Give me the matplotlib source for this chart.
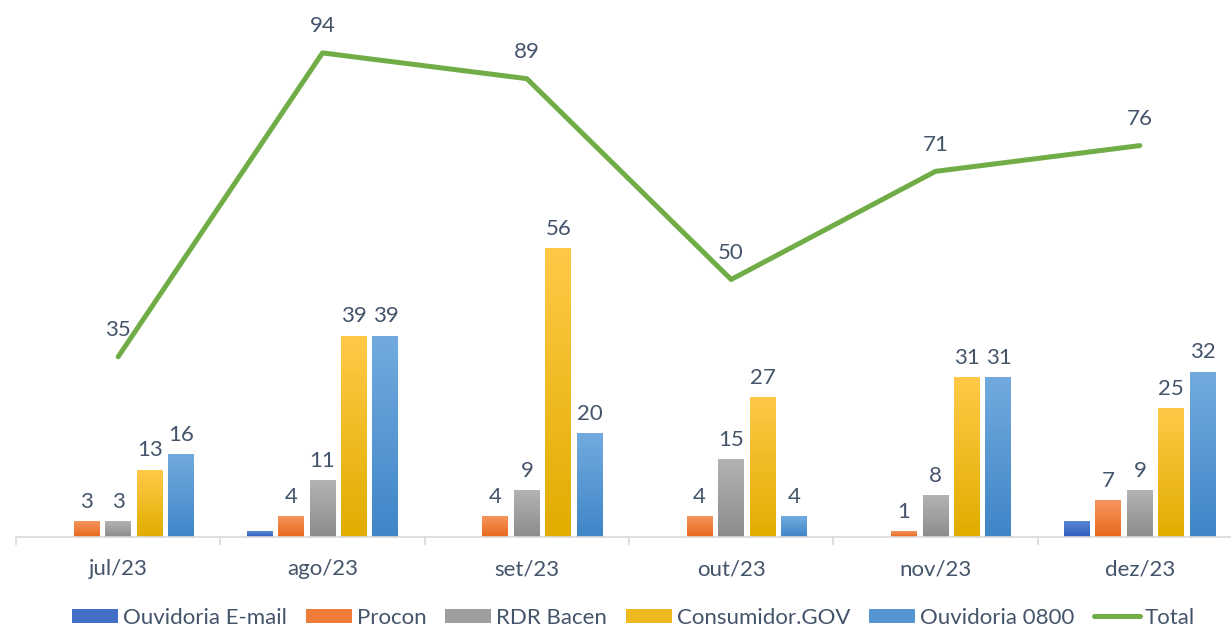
import numpy as np
import matplotlib
matplotlib.use("Agg")
import matplotlib.pyplot as plt
from matplotlib.colors import LinearSegmentedColormap
from matplotlib.patches import Patch
from matplotlib.lines import Line2D

plt.rcParams['font.family'] = ['Lato', 'DejaVu Sans']

months = ["jul/23", "ago/23", "set/23", "out/23", "nov/23", "dez/23"]
series = ["Ouvidoria E-mail", "Procon", "RDR Bacen", "Consumidor.GOV", "Ouvidoria 0800"]
email = [0, 1, 0, 0, 0, 3]
procon = [3, 4, 4, 4, 1, 7]
rdr = [3, 11, 9, 15, 8, 9]
gov = [13, 39, 56, 27, 31, 25]
tel = [16, 39, 20, 4, 31, 32]
total = [35, 94, 89, 50, 71, 76]

values = [email, procon, rdr, gov, tel]
show_labels = [False, True, True, True, True]
# (top, bottom) colours of the gradient fills
grads = [("#5a86d6", "#2f5cbc"),
         ("#f6955e", "#e8691c"),
         ("#b3b3b3", "#8c8c8c"),
         ("#ffc947", "#e2ad00"),
         ("#72aadf", "#3f86c8")]
txt = "#44546a"

fig = plt.figure(figsize=(12.31, 6.29), dpi=100)
W, H = 1231, 629
ax = fig.add_axes([16 / W, 1 - 537 / H, 1226 / W, (537 - 22) / H])

x = np.arange(len(months))
bw = 0.127
step = 0.154
cmaps = []
for i, (vals, (c_top, c_bot)) in enumerate(zip(values, grads)):
    cmap = LinearSegmentedColormap.from_list("g%d" % i, [c_bot, c_top])
    cmaps.append(cmap)
    grad = np.linspace(1, 0, 50).reshape(-1, 1)
    for j, v in enumerate(vals):
        if v <= 0:
            continue
        xc = x[j] + (i - 2) * step
        ax.imshow(grad, cmap=cmap, extent=[xc - bw / 2, xc + bw / 2, 0, v],
                  aspect='auto', zorder=2, interpolation='bilinear')
        if show_labels[i]:
            ax.annotate(str(v), (xc, v), xytext=(0, 7), textcoords='offset points',
                        ha='center', va='bottom', fontsize=16, color=txt)

ax.plot(x, total, color="#70ad47", lw=3.6, zorder=3, solid_capstyle='round')
for xi, t in zip(x, total):
    ax.annotate(str(t), (xi, t), xytext=(0, 12), textcoords='offset points',
                ha='center', va='bottom', fontsize=16, color=txt, annotation_clip=False)

ax.set_xlim(-0.5, 5.5)
ax.set_ylim(0, 100)
for s in ['top', 'right', 'left']:
    ax.spines[s].set_visible(False)
ax.spines['bottom'].set_color("#d9d9d9")
ax.spines['bottom'].set_linewidth(1.2)
ax.set_yticks([])
ax.set_xticks(np.arange(-0.5, 6, 1))
ax.set_xticklabels([])
ax.set_xticks(x, minor=True)
ax.set_xticklabels(months, minor=True, fontsize=16, color=txt)
ax.tick_params(axis='x', which='major', length=6, color="#d9d9d9", width=1.2)
ax.tick_params(axis='x', which='minor', length=0, pad=16)

handles = [Patch(facecolor=cm(0.45), label=s) for cm, s in zip(cmaps, series)]
handles.append(Line2D([0], [0], color="#70ad47", lw=3.6, label="Total",
                      solid_capstyle='round'))
fig.legend(handles=handles, loc='center', bbox_to_anchor=(0.5146, 1 - 618 / H), ncol=6,
           frameon=False, fontsize=16, labelcolor=txt, handlelength=2.07, handleheight=0.63,
           handletextpad=0.22, columnspacing=0.85)

fig.savefig("out.png", dpi=100)
